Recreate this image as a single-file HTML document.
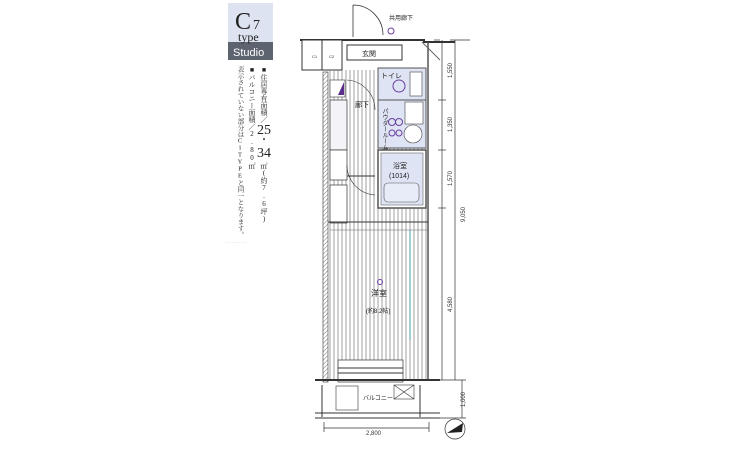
<!DOCTYPE html>
<html><head><meta charset="utf-8"><style>
body{margin:0;background:#fff;width:730px;height:470px;overflow:hidden}
svg{display:block}
text{font-family:"Liberation Sans","Noto Sans CJK JP",sans-serif}
.serif{font-family:"Liberation Serif","Noto Serif CJK SC",serif}
.vt{writing-mode:vertical-rl;text-orientation:upright;font-family:"Liberation Serif","Noto Serif CJK SC",serif}
</style></head><body>
<svg width="730" height="470" viewBox="0 0 730 470" xmlns="http://www.w3.org/2000/svg">
<defs>
<pattern id="st" width="4" height="10" patternUnits="userSpaceOnUse"><line x1="2" y1="0" x2="2" y2="10" stroke="#888" stroke-width="0.8"/></pattern>
<pattern id="hz" width="3" height="3" patternUnits="userSpaceOnUse" patternTransform="rotate(45)"><line x1="0" y1="0" x2="0" y2="3" stroke="#555" stroke-width="0.8"/></pattern>
</defs>
<!-- label block -->
<rect x="228" y="3" width="45" height="40" fill="#dde3f0"/>
<rect x="228" y="42" width="45" height="18" fill="#5d6470"/>
<text x="235" y="29" class="serif" style="font-size:24px" fill="#222">C</text>
<text x="253" y="29" class="serif" style="font-size:14px" fill="#222">7</text>
<text x="238" y="41" class="serif" style="font-size:12px" fill="#222">type</text>
<text x="233" y="56" font-size="11" fill="#fff">Studio</text>
<g fill="#222">
<text x="264" y="66" class="vt" style="font-size:7px">■住居専有面積／</text>
<text x="264" y="134" class="serif" style="font-size:14px" text-anchor="middle">25</text>
<text x="264" y="143" class="serif" style="font-size:10px" text-anchor="middle">・</text>
<text x="264" y="157" class="serif" style="font-size:14px" text-anchor="middle">34</text>
<text x="264" y="162" class="vt" style="font-size:7px">㎡(約7.6坪)</text>
<text x="252" y="66" class="vt" style="font-size:7px">■バルコニー面積／2.80㎡</text>
<text x="240" y="66" class="vt" style="font-size:6.5px">表示されていない部分はC1TYPEと同一となります。</text>
</g>
<text x="226" y="244" font-size="6" fill="#aaa" letter-spacing="1">·······</text>

<!-- entrance door -->
<path d="M353 5 L353 37 M353 5 A30 30 0 0 1 383 35" fill="none" stroke="#333" stroke-width="0.8"/>
<text x="389" y="20" font-size="6" fill="#222">共用廊下</text>
<circle cx="391" cy="31" r="3" fill="none" stroke="#6a3fa0"/>

<!-- outer walls -->
<path d="M300 40 L424 40 L424 42 L455 42" stroke="#333" stroke-width="2" fill="none"/>
<rect x="302" y="40" width="40" height="30" fill="#fff" stroke="#333"/>
<line x1="322" y1="40" x2="322" y2="70" stroke="#333"/>
<text x="312" y="58" font-size="4" fill="#333">C1</text><text x="329" y="58" font-size="4" fill="#333">C2</text>
<rect x="347" y="45" width="55" height="15" fill="#fff" stroke="#333"/>
<text x="362" y="56" font-size="7" fill="#222">玄関</text>
<!-- main body -->
<rect x="328" y="70" width="100" height="310" fill="url(#st)"/>
<rect x="323" y="72" width="5" height="310" fill="url(#hz)" stroke="#333" stroke-width="0.6"/>
<line x1="428" y1="42" x2="428" y2="380" stroke="#555" stroke-width="1.5"/>
<line x1="422" y1="42" x2="440" y2="60" stroke="#666"/>
<rect x="330" y="80" width="15" height="17" fill="#fff" stroke="#333" stroke-width="0.6"/>
<polygon points="338,95 344,82 344,95" fill="#5b2d8c"/>
<!-- kitchen column -->
<rect x="330" y="100" width="17" height="50" fill="#f4f4f8" stroke="#333" stroke-width="0.7"/>
<rect x="330" y="150" width="17" height="30" fill="#fff" stroke="#333" stroke-width="0.7"/>
<rect x="330" y="185" width="17" height="38" fill="#fff" stroke="#333" stroke-width="0.7"/>
<text x="355" y="107" font-size="7" fill="#222">廊下</text>
<path d="M347 80 A30 30 0 0 1 375 110" fill="none" stroke="#333" stroke-width="0.6"/>
<path d="M347 165 A30 30 0 0 0 375 195" fill="none" stroke="#333" stroke-width="0.6"/>
<line x1="347" y1="176" x2="375" y2="176" stroke="#333"/>
<!-- toilet -->
<rect x="378" y="68" width="48" height="32" fill="#dfe4f5" stroke="#555"/>
<text x="381" y="78" font-size="7" fill="#222">トイレ</text>
<circle cx="399" cy="86" r="6" fill="none" stroke="#6a3fa0"/>
<rect x="410" y="72" width="12" height="24" fill="#fff" stroke="#444" stroke-width="0.6"/>
<!-- bathroom -->
<rect x="378" y="100" width="48" height="48" fill="#dfe4f5" stroke="#555"/>
<text x="384" y="108" style="font-size:6px;writing-mode:vertical-rl" fill="#222">パウダールーム</text>
<circle cx="392" cy="122" r="3.5" fill="none" stroke="#6a3fa0"/><circle cx="399" cy="122" r="3.5" fill="none" stroke="#6a3fa0"/>
<circle cx="392" cy="133" r="3" fill="none" stroke="#6a3fa0"/><circle cx="399" cy="133" r="3" fill="none" stroke="#6a3fa0"/>
<rect x="405" y="102" width="18" height="22" fill="#fff" stroke="#444" stroke-width="0.6"/>
<circle cx="413" cy="134" r="9" fill="#fff" stroke="#444" stroke-width="0.6"/>
<!-- bath -->
<rect x="378" y="150" width="48" height="58" fill="#fff" stroke="#555" stroke-width="1.5"/>
<rect x="381" y="153" width="42" height="52" fill="#dfe4f5" stroke="#666" stroke-width="0.6"/>
<text x="393" y="168" font-size="7" fill="#222">浴室</text>
<text x="389" y="178" font-size="7" fill="#222">(1014)</text>
<rect x="384" y="183" width="35" height="19" rx="4" fill="#e8ebf8" stroke="#555" stroke-width="0.6"/>
<!-- room divider -->
<line x1="328" y1="222" x2="428" y2="222" stroke="#333"/>
<line x1="330" y1="230" x2="428" y2="230" stroke="#666" stroke-width="0.5"/>
<line x1="410" y1="230" x2="410" y2="340" stroke="#49a" stroke-width="1"/>
<text x="371" y="296" font-size="8" fill="#222">洋室</text>
<text x="366" y="313" font-size="6" fill="#222">(約8.2帖)</text>
<circle cx="380" cy="282" r="2.5" fill="none" stroke="#6a3fa0"/>
<!-- window / balcony -->
<rect x="338" y="360" width="65" height="22" fill="#fff" stroke="#333" stroke-width="0.7"/>
<line x1="338" y1="368" x2="403" y2="368" stroke="#333"/><line x1="338" y1="373" x2="403" y2="373" stroke="#333"/>
<line x1="315" y1="380" x2="440" y2="380" stroke="#333" stroke-width="2"/>
<line x1="322" y1="385" x2="322" y2="417" stroke="#333"/>
<line x1="420" y1="385" x2="420" y2="417" stroke="#333"/>
<line x1="315" y1="413" x2="440" y2="413" stroke="#333"/>
<line x1="315" y1="418" x2="440" y2="418" stroke="#333"/>
<rect x="336" y="386" width="22" height="24" fill="#fff" stroke="#333" stroke-width="0.6"/>
<text x="363" y="400" font-size="6" fill="#222">バルコニー</text>
<rect x="394" y="385" width="20" height="14" fill="#fff" stroke="#333" stroke-width="0.6"/>
<path d="M394 385 L414 399 M414 385 L394 399" stroke="#333" stroke-width="0.6"/>
<!-- dimensions -->
<g stroke="#333" stroke-width="0.7">
<line x1="434" y1="40" x2="440" y2="40"/>
<line x1="442" y1="40" x2="442" y2="380"/>
<line x1="438" y1="100" x2="446" y2="100"/><line x1="438" y1="150" x2="446" y2="150"/><line x1="438" y1="208" x2="446" y2="208"/><line x1="438" y1="380" x2="466" y2="380"/>
<line x1="455" y1="40" x2="455" y2="380"/><line x1="450" y1="40" x2="470" y2="40"/>
<line x1="462" y1="380" x2="462" y2="418"/><line x1="440" y1="418" x2="466" y2="418"/>
<line x1="324" y1="428" x2="429" y2="428"/><line x1="324" y1="422" x2="324" y2="432"/><line x1="429" y1="422" x2="429" y2="432"/>
</g>
<g font-size="6" fill="#333">
<text transform="translate(452,78) rotate(-90)">1,550</text>
<text transform="translate(452,132) rotate(-90)">1,350</text>
<text transform="translate(452,186) rotate(-90)">1,570</text>
<text transform="translate(465,222) rotate(-90)">9,050</text>
<text transform="translate(452,312) rotate(-90)">4,580</text>
<text transform="translate(465,407) rotate(-90)">1,000</text>
<text x="366" y="435">2,800</text>
</g>
<circle cx="455" cy="429" r="10" fill="none" stroke="#333" stroke-width="0.7"/>
<polygon points="447,433 463,423 462,432" fill="#222"/>
</svg>
</body></html>
